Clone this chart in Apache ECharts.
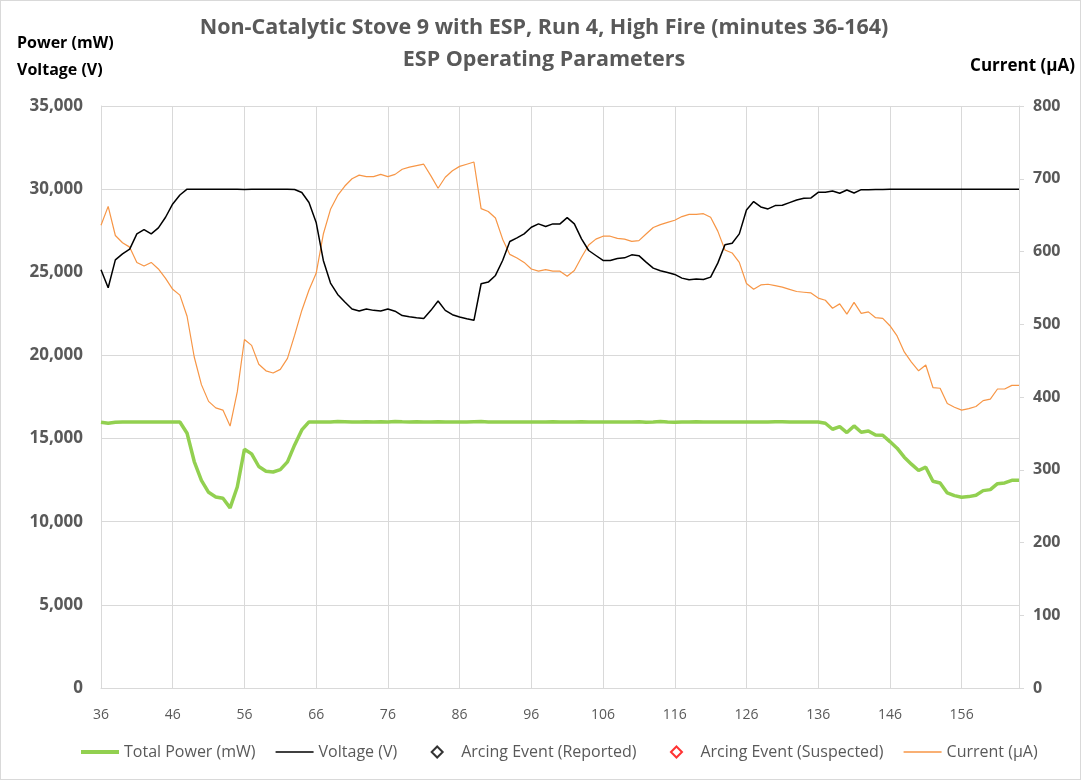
<!DOCTYPE html>
<html>
<head>
<meta charset="utf-8">
<script src="https://cdn.jsdelivr.net/npm/echarts@6/dist/echarts.min.js"></script>
<style>
  html, body { margin: 0; padding: 0; background: #fff; }
  #chart { width: 1081px; height: 780px; box-sizing: border-box; border: 1px solid #d9d9d9; }
</style>
</head>
<body>
<div id="chart"></div>
<script>
  // minutes 36..164, one sample per minute
  const minutes = [];
  for (let m = 36; m <= 164; m++) minutes.push(String(m));

  const totalPower = [
    15980, 15920, 15980, 16000, 16000, 15990, 16000, 16000, 15990, 16000,
    16000, 16000, 15320, 13620, 12490, 11770, 11490, 11410, 10830, 12090,
    14360, 14080, 13320, 13040, 12990, 13130, 13600, 14620, 15520, 16000,
    16000, 15990, 16000, 16030, 16010, 15990, 16000, 16010, 16000, 16010,
    16000, 16030, 16010, 16000, 16010, 16000, 16000, 16010, 15990, 16000,
    16000, 16000, 16010, 16020, 16000, 15990, 15990, 16000, 16000, 15990,
    16000, 16000, 16000, 16010, 16000, 15990, 16000, 16010, 16000, 16000,
    16000, 16000, 15990, 16000, 16000, 16010, 15980, 16000, 16030, 16000,
    15980, 16000, 16000, 16010, 16000, 16000, 16000, 15990, 16000, 15990,
    16000, 15990, 16000, 16000, 16010, 16010, 16000, 16000, 16000, 16000,
    16000, 15920, 15560, 15720, 15360, 15760, 15380, 15460, 15220, 15200,
    14820, 14420, 13880, 13460, 13080, 13280, 12430, 12330, 11730, 11570,
    11470, 11510, 11590, 11870, 11930, 12290, 12330, 12490, 12490
  ];

  const voltage = [
    25150, 24070, 25750, 26110, 26390, 27310, 27570, 27310, 27670, 28310,
    29110, 29650, 30000, 30000, 30000, 29990, 30000, 30000, 30000, 30000,
    29980, 29990, 30000, 29990, 30000, 29990, 29990, 29980, 29800, 29200,
    28000, 25710, 24350, 23670, 23210, 22790, 22670, 22790, 22710, 22670,
    22790, 22660, 22400, 22330, 22270, 22220, 22710, 23270, 22710, 22450,
    22310, 22200, 22110, 24310, 24410, 24810, 25710, 26850, 27070, 27310,
    27710, 27910, 27750, 27910, 27910, 28290, 27910, 27010, 26310, 26010,
    25710, 25710, 25830, 25870, 26050, 26000, 25610, 25250, 25090, 24990,
    24870, 24650, 24550, 24590, 24570, 24710, 25550, 26650, 26750, 27310,
    28750, 29250, 28930, 28810, 29010, 29030, 29190, 29350, 29450, 29470,
    29810, 29810, 29890, 29750, 29950, 29770, 29970, 29970, 29980, 29980,
    29990, 29990, 30000, 30000, 30000, 30000, 29990, 30000, 30000, 29990,
    29990, 29990, 30000, 29990, 30000, 30000, 30000, 30000, 29990
  ];

  const current = [
    636, 662, 622, 612, 606, 585, 580, 585, 576, 563,
    548, 540, 511, 455, 417, 394, 385, 382, 360, 407,
    479, 471, 445, 436, 433, 438, 453, 485, 519, 547,
    570, 624, 658, 677, 690, 700, 705, 703, 703, 706,
    703, 706, 713, 716, 718, 720, 704, 687, 702, 711,
    717, 720, 723, 659, 655, 646, 617, 596, 591, 585,
    576, 573, 575, 573, 573, 566, 574, 592, 609, 617,
    621, 621, 618, 617, 614, 615, 624, 633, 637, 640,
    643, 648, 651, 651, 652, 647, 628, 602, 598, 585,
    556, 548, 554, 555, 553, 551, 548, 545, 544, 543,
    536, 533, 522, 528, 514, 530, 515, 517, 509, 508,
    498, 484, 462, 448, 436, 444, 413, 412, 391, 386,
    382, 384, 387, 395, 397, 411, 411, 416, 416
  ];

  // no arcing events recorded in this window
  const arcingReported = [];
  const arcingSuspected = [];

  const chart = echarts.init(document.getElementById('chart'));
  const font = '"Open Sans", "Noto Sans", sans-serif';
  const grey = '#595959';
  const gridLine = '#d9d9d9';

  // legend icons: the extra move-to points keep the 38x12 box so nothing is stretched
  const lineIcon = h => 'path://M0,0 M38,12 M0,' + (6 - h / 2) + ' L38,' + (6 - h / 2) + ' L38,' + (6 + h / 2) + ' L0,' + (6 + h / 2) + ' Z';
  const diamondIcon = 'path://M0,0 M38,12 M19,0.5 L24.5,6 L19,11.5 L13.5,6 Z';

  chart.setOption({
    animation: false,
    textStyle: { fontFamily: font },
    title: {
      text: 'Non-Catalytic Stove 9 with ESP, Run 4, High Fire (minutes 36-164)\nESP Operating Parameters',
      left: 538,
      textAlign: 'center',
      top: 6,
      textStyle: { fontSize: 21.5, fontWeight: 'bold', color: grey, lineHeight: 32, fontFamily: font }
    },
    graphic: [
      {
        type: 'text', left: 16, top: 29,
        style: { text: 'Power (mW)\nVoltage (V)', font: 'bold 16px ' + font, fill: '#000', lineHeight: 27, align: 'center', x: 48 }
      },
      {
        type: 'text', right: 5, top: 57,
        style: { text: 'Current (µA)', font: 'bold 17px ' + font, fill: '#000' }
      }
    ],
    legend: {
      bottom: 14,
      left: 75,
      itemWidth: 38,
      itemHeight: 12,
      itemGap: 20,
      textStyle: { fontSize: 16, color: grey, fontFamily: font },
      data: [
        { name: 'Total Power (mW)', icon: lineIcon(4), itemStyle: { color: '#92d050', borderWidth: 0 } },
        { name: 'Voltage (V)', icon: lineIcon(1.6), itemStyle: { color: '#000', borderWidth: 0 } },
        { name: 'Arcing Event (Reported)', icon: diamondIcon, itemStyle: { color: '#fff', borderColor: '#000', borderWidth: 2 } },
        { name: 'Arcing Event (Suspected)', icon: diamondIcon, itemStyle: { color: '#fff', borderColor: '#ff0000', borderWidth: 2 } },
        { name: 'Current (µA)', icon: lineIcon(1.6), itemStyle: { color: '#f79646', borderWidth: 0 } }
      ]
    },
    grid: { left: 100, right: 61, top: 105, bottom: 91 },
    xAxis: {
      type: 'category',
      data: minutes,
      boundaryGap: false,
      axisLine: { lineStyle: { color: gridLine } },
      axisTick: { show: false },
      axisLabel: { interval: 9, color: grey, fontSize: 14, margin: 20, fontFamily: font },
      splitLine: { show: true, interval: 9, lineStyle: { color: gridLine } }
    },
    yAxis: [
      {
        type: 'value',
        min: 0, max: 35000, interval: 5000,
        axisLine: { show: true, lineStyle: { color: gridLine } },
        axisTick: { show: false },
        axisLabel: {
          color: grey, fontSize: 17, fontWeight: 'bold', margin: 18, fontFamily: font,
          formatter: v => v.toLocaleString('en-US')
        },
        splitLine: { lineStyle: { color: gridLine } }
      },
      {
        type: 'value',
        min: 0, max: 800, interval: 100,
        axisLine: { show: true, lineStyle: { color: gridLine } },
        axisTick: { show: true, length: 5, lineStyle: { color: gridLine } },
        axisLabel: { color: grey, fontSize: 16, fontWeight: 'bold', margin: 14, fontFamily: font },
        splitLine: { show: false }
      }
    ],
    series: [
      {
        name: 'Total Power (mW)', type: 'line', yAxisIndex: 0,
        data: totalPower, symbol: 'none',
        lineStyle: { color: '#92d050', width: 3.5 },
        itemStyle: { color: '#92d050' }, z: 3
      },
      {
        name: 'Voltage (V)', type: 'line', yAxisIndex: 0,
        data: voltage, symbol: 'none',
        lineStyle: { color: '#000', width: 1.5 },
        itemStyle: { color: '#000' }, z: 4
      },
      {
        name: 'Arcing Event (Reported)', type: 'scatter', yAxisIndex: 0,
        data: arcingReported, symbol: 'diamond', symbolSize: 10,
        itemStyle: { color: '#fff', borderColor: '#000', borderWidth: 2 }
      },
      {
        name: 'Arcing Event (Suspected)', type: 'scatter', yAxisIndex: 0,
        data: arcingSuspected, symbol: 'diamond', symbolSize: 10,
        itemStyle: { color: '#fff', borderColor: '#ff0000', borderWidth: 2 }
      },
      {
        name: 'Current (µA)', type: 'line', yAxisIndex: 1,
        data: current, symbol: 'none',
        lineStyle: { color: '#f79646', width: 1.2 },
        itemStyle: { color: '#f79646' }, z: 2
      }
    ]
  });
</script>
</body>
</html>
